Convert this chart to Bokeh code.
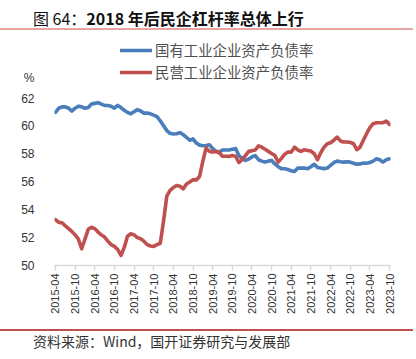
import math
from bokeh.plotting import figure
from bokeh.layouts import column
from bokeh.models import (Legend, LegendItem, FixedTicker, ColumnDataSource, Range1d, Div)
from bokeh.embed import file_html
from bokeh.resources import INLINE

# ---------------- data (monthly, 2015-04 .. 2023-10) ----------------
tick_labels = ["2015-04", "2015-10", "2016-04", "2016-10", "2017-04", "2017-10",
               "2018-04", "2018-10", "2019-04", "2019-10", "2020-04", "2020-10",
               "2021-04", "2021-10", "2022-04", "2022-10", "2023-04", "2023-10"]
y_ticks = [50, 52, 54, 56, 58, 60, 62]

soe_ratio = [61.0, 61.3, 61.4, 61.4, 61.3, 61.1, 61.3, 61.45, 61.4, 61.3,
             61.35, 61.6, 61.65, 61.7, 61.6, 61.5, 61.5, 61.45, 61.3, 61.5,
             61.35, 61.15, 61.0, 60.9, 61.05, 61.2, 61.1, 60.95, 60.95, 60.9,
             60.8, 60.7, 60.4, 60.05, 59.7, 59.5, 59.45, 59.47, 59.55, 59.4,
             59.2, 59.0, 59.1, 58.8, 58.65, 58.6, 58.62, 58.68, 58.4, 58.2,
             58.15, 58.3, 58.3, 58.3, 58.35, 58.4, 57.9, 57.7, 57.55, 57.65,
             57.8, 57.9, 57.6, 57.5, 57.43, 57.5, 57.55, 57.3, 57.1, 56.96,
             56.95, 56.9, 56.8, 56.76, 57.0, 57.0, 57.0, 56.96, 57.1, 57.27,
             57.05, 57.0, 56.96, 57.0, 57.2, 57.4, 57.5, 57.45, 57.43, 57.45,
             57.43, 57.35, 57.27, 57.3, 57.36, 57.35, 57.4, 57.5, 57.67, 57.6,
             57.43, 57.6, 57.67]

private_ratio = [53.3, 53.1, 53.07, 52.85, 52.65, 52.45, 52.2, 51.9, 51.2, 51.9,
                 52.6, 52.75, 52.65, 52.4, 52.2, 52.04, 51.75, 51.5, 51.37, 51.15,
                 50.72, 51.3, 52.1, 52.28, 52.2, 52.0, 51.92, 51.75, 51.5, 51.4,
                 51.37, 51.5, 51.6, 53.2, 55.0, 55.4, 55.6, 55.75, 55.7, 55.5,
                 55.85, 56.0, 56.17, 56.15, 56.4, 57.5, 58.45, 58.2, 58.15, 58.2,
                 58.1, 57.85, 57.85, 57.84, 57.9, 57.85, 57.4, 57.6, 57.9, 58.2,
                 58.25, 58.3, 58.6, 58.5, 58.35, 58.2, 58.05, 57.9, 57.43, 57.7,
                 58.0, 58.15, 58.15, 58.5, 58.3, 58.2, 58.32, 58.27, 58.22, 58.03,
                 57.6, 58.1, 58.5, 58.75, 58.82, 59.0, 59.23, 58.95, 58.87, 58.87,
                 58.85, 58.75, 58.32, 58.5, 59.0, 59.47, 59.9, 60.19, 60.26, 60.26,
                 60.26, 60.38, 60.14]

series_names = ["国有工业企业资产负债率", "民营工业企业资产负债率"]
title_prefix = "图 64："
title_main = "2018 年后民企杠杆率总体上行"
source_text = "资料来源：Wind，国开证券研究与发展部"
unit_text = "%"
unit_pos = 63.5

FONT = "'Noto Sans CJK SC', sans-serif"

# ---------------- header ----------------
header = Div(width=416, height=31, margin=(0, 0, 0, 0), text=(
    "<div style='position:relative;width:416px;height:31px;'>"
    "<div style=\"position:absolute;left:33px;top:7px;white-space:nowrap;"
    f"font-family:{FONT};font-size:16px;line-height:22px;color:#111111;\">"
    f"{title_prefix}<b>{title_main}</b></div>"
    "<div style='position:absolute;left:0px;top:28px;width:413px;height:2px;"
    "background:#e8a3a3;'></div></div>"))

# ---------------- figure ----------------
n = len(soe_ratio)
idx = list(range(n))
src = ColumnDataSource(dict(x=idx, soe=soe_ratio, private=private_ratio))

ppu = 167 / 12.0          # px per y-unit in the reference
frame_h = 234
p = figure(width=416, height=295, output_backend="svg", toolbar_location=None,
           x_range=Range1d(-0.3, n - 1 + 0.3),
           y_range=Range1d(50, 50 + frame_h / ppu),
           min_border_left=54, min_border_right=26,
           min_border_top=0, min_border_bottom=295 - frame_h,
           margin=(0, 0, 0, 0))
p.outline_line_color = None
p.grid.visible = False
p.background_fill_color = "white"
p.border_fill_color = "white"

BLUE = "#4a7ebb"
RED = "#c0504d"
r1 = p.line("x", "soe", source=src, line_color=BLUE, line_width=3.6,
            line_join="round", line_cap="round")
r2 = p.line("x", "private", source=src, line_color=RED, line_width=3.6,
            line_join="round", line_cap="round")

# y axis (unit "%" shown as label above the top tick)
ya = p.yaxis[0]
ya.ticker = FixedTicker(ticks=y_ticks + [unit_pos])
ya.major_label_overrides = {unit_pos: unit_text}
ya.axis_line_color = None
ya.major_tick_line_color = None
ya.minor_tick_line_color = None
ya.major_label_standoff = 14
ya.major_label_text_font = "Liberation Sans"
ya.major_label_text_font_size = "12px"
ya.major_label_text_color = "#333333"

# x axis
tick_pos = [i * 6 for i in range(len(tick_labels))]
xa = p.xaxis[0]
xa.ticker = FixedTicker(ticks=tick_pos)
xa.major_label_overrides = {t: lab for t, lab in zip(tick_pos, tick_labels)}
xa.axis_line_color = "#d9d9d9"
xa.axis_line_width = 1.5
xa.major_tick_line_color = "#d9d9d9"
xa.major_tick_line_width = 1.5
xa.major_tick_in = 0
xa.major_tick_out = 5
xa.minor_tick_line_color = None
xa.major_label_orientation = math.pi / 2
xa.major_label_standoff = 3
xa.major_label_text_font = "Liberation Sans"
xa.major_label_text_font_size = "11px"
xa.major_label_text_color = "#333333"

# legend (rows centred at page y ~51 and ~72)
legend = Legend(items=[LegendItem(label=series_names[0], renderers=[r1]),
                       LegendItem(label=series_names[1], renderers=[r2])],
                location=(66, 183), orientation="vertical",
                glyph_width=32, glyph_height=20, label_height=20,
                label_standoff=3, spacing=1, padding=0, margin=0,
                border_line_color=None, background_fill_alpha=0,
                label_text_font="Noto Sans CJK SC", label_text_font_size="14.4px",
                label_text_color="#505050")
p.add_layout(legend)

# ---------------- footer ----------------
footer = Div(width=416, height=33, margin=(0, 0, 0, 0), text=(
    "<div style='position:relative;width:416px;height:33px;'>"
    "<div style='position:absolute;left:0px;top:3px;width:413px;height:1.5px;"
    "background:#c0504d;'></div>"
    "<div style=\"position:absolute;left:33px;top:6px;white-space:nowrap;"
    f"font-family:{FONT};font-size:14px;line-height:18px;color:#333333;\">"
    f"{source_text}</div></div>"))

page = column(header, p, footer, spacing=0, margin=(0, 0, 0, 0))
open("out.html", "w").write(file_html(page, INLINE))
